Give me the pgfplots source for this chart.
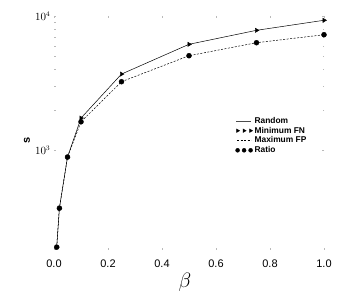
\documentclass[border=0pt]{standalone}
\usepackage{pgfplots}
\pgfplotsset{compat=1.18}
\usepackage{fontspec}
\setmainfont{Liberation Sans}
\pgfplotsset{
  legrand/.style={legend image code/.code={\path[draw=none,fill=none] (0pt,0pt) -- (18pt,0pt); \draw[##1, gray!60!black] (1pt,0pt) -- (16pt,0pt);}},
  legdash/.style={legend image code/.code={\path[draw=none,fill=none] (0pt,0pt) -- (18pt,0pt); \draw[##1] (2pt,0pt) -- (16pt,0pt);}},
  legmarks/.style={legend image code/.code={\path[draw=none,fill=none] (0pt,0pt) -- (18pt,0pt); \draw[##1, only marks, mark size=2pt, mark repeat=1, mark phase=1] plot coordinates {(2.5pt,0pt) (9pt,0pt) (15.5pt,0pt)};}},
}
\begin{document}
\begin{tikzpicture}[x=1pt,y=1pt]
\begin{axis}[
  at={(54pt,54pt)}, anchor=south west,
  scale only axis, width=270pt, height=234pt,
  ymode=log, xmin=0, xmax=1, ymin=180, ymax=10000,
  axis line style={draw=none},
  xtick={0,0.2,0.4,0.6,0.8,1.0},
  xticklabels={0.0,0.2,0.4,0.6,0.8,1.0},
  xticklabel style={font=\fontsize{11}{13}\selectfont, yshift=-6pt},
  yticklabel style={font=\fontsize{10.5}{12}\selectfont},
  ytick={1000,10000},
  tick style={gray!55, line width=0.4pt},
  major tick length=2pt, minor tick length=1.5pt,
  tick pos=both,
  xlabel={}, ylabel={},
  legend style={at={(0.670,0.575)}, anchor=north west, draw=none, fill=none,
    font=\fontsize{8.4}{10}\selectfont\bfseries, row sep=-0.8pt,
    inner sep=0pt, nodes={inner sep=1.5pt}},
  legend cell align=left,
]
\addplot[black, line width=0.5pt, no marks, legrand] coordinates {
(0.01,189) (0.02,369) (0.05,887) (0.1,1733) (0.25,3690) (0.5,6150) (0.75,7820) (1.0,9290)};
\addlegendentry{Random}
\addplot[black, only marks, mark=triangle*, mark size=2.5pt, mark options={rotate=-90, fill=black}, legmarks] coordinates {
(0.01,189) (0.02,369) (0.05,887) (0.1,1733) (0.25,3690) (0.5,6150) (0.75,7820) (1.0,9290)};
\addlegendentry{Minimum FN}
\addplot[black, dashed, dash pattern=on 2pt off 1.5pt, line width=0.5pt, no marks, legdash] coordinates {
(0.01,189) (0.02,369) (0.05,887) (0.1,1626) (0.25,3236) (0.5,5055) (0.75,6320) (1.0,7250)};
\addlegendentry{Maximum FP}
\addplot[black, only marks, mark=*, mark size=2.5pt, legmarks] coordinates {
(0.01,189) (0.02,369) (0.05,887) (0.1,1626) (0.25,3236) (0.5,5055) (0.75,6320) (1.0,7250)};
\addlegendentry{Ratio}
\end{axis}
\path (0,0) rectangle (354,304);
\node at (185,22) {\fontsize{21}{24}\selectfont$\beta$};
\node[rotate=90] at (27,164) {\fontsize{11}{13}\selectfont\bfseries s};
\end{tikzpicture}
\end{document}
